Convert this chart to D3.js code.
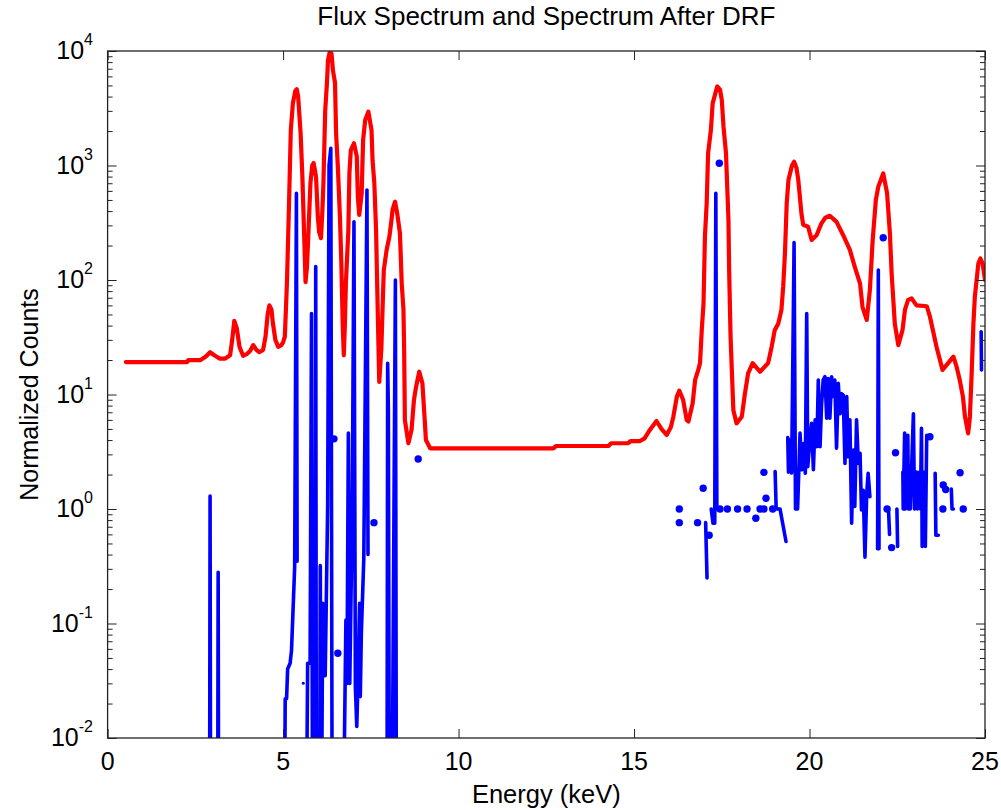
<!DOCTYPE html>
<html><head><meta charset="utf-8">
<script src="https://cdn.jsdelivr.net/npm/d3@7"></script>
<style>
html,body{margin:0;padding:0;background:#fff;}
svg text{font-family:"Liberation Sans",Arial,Helvetica,sans-serif;fill:#000;}
</style></head>
<body>
<svg id="chart" width="1001" height="810"></svg>
<script>
// ---------- DATA ----------
const title = "Flux Spectrum and Spectrum After DRF";
const xLabel = "Energy (keV)";
const yLabel = "Normalized Counts";
const xTicks = [0, 5, 10, 15, 20, 25];
const yExponents = [-2, -1, 0, 1, 2, 3, 4];

// Flux spectrum (red)
const redE = [0.52,2.27,2.30,2.65,2.80,2.92,3.06,3.20,3.35,3.49,3.55,3.61,3.68,3.76,3.86,3.96,4.06,4.15,4.24,4.32,4.43,4.50,4.56,4.61,4.67,4.71,4.78,4.86,4.95,5.00,5.05,5.11,5.17,5.22,5.28,5.35,5.39,5.43,5.50,5.55,5.60,5.64,5.68,5.71,5.75,5.78,5.83,5.87,5.91,5.94,5.99,6.03,6.08,6.12,6.15,6.20,6.25,6.28,6.33,6.38,6.42,6.48,6.51,6.56,6.62,6.66,6.70,6.73,6.76,6.79,6.86,6.89,6.93,7.02,7.10,7.13,7.17,7.24,7.28,7.34,7.43,7.52,7.55,7.60,7.65,7.68,7.74,7.80,7.85,7.87,7.95,8.03,8.08,8.12,8.19,8.25,8.33,8.38,8.43,8.45,8.47,8.57,8.66,8.73,8.79,8.88,8.97,9.03,9.07,9.19,12.70,12.78,14.27,14.35,14.83,14.90,15.17,15.30,15.45,15.64,15.78,15.93,16.05,16.12,16.22,16.29,16.40,16.50,16.55,16.67,16.74,16.83,16.88,16.93,16.98,17.02,17.07,17.11,17.19,17.24,17.37,17.45,17.50,17.55,17.62,17.69,17.71,17.75,17.83,17.92,18.07,18.16,18.25,18.38,18.59,18.82,18.92,19.01,19.11,19.20,19.25,19.30,19.35,19.40,19.50,19.56,19.63,19.68,19.77,19.82,19.96,20.06,20.20,20.34,20.45,20.58,20.77,20.96,21.15,21.29,21.44,21.51,21.63,21.72,21.80,21.89,21.96,22.10,22.21,22.29,22.34,22.43,22.53,22.65,22.72,22.81,22.91,23.05,23.34,23.43,23.62,23.79,23.95,24.10,24.19,24.28,24.37,24.43,24.52,24.57,24.62,24.67,24.71,24.81,24.87,24.93,25.00];
const redV = [19.2,19.2,20.0,20.0,21.5,23.4,21.8,20.6,20.6,22.0,30,44,38,26,21.8,22.5,24,27,24.5,23.4,24.5,32,50,60,55,42,30,26.1,27,28.5,32,94,470,2040,3500,4500,4634,4000,1900,800,250,96,130,210,420,705,1000,1050,900,790,357,260,232,400,705,3000,5260,8300,9800,9500,6800,5260,1930,980,357,140,40,22,40,94,273,860,1365,1563,1200,534,370,571,1670,2500,2950,2040,1100,700,273,94,12.9,25,80,122,183,240,317,410,483,385,257,94,55,24.5,6,3.75,4.9,9,11.7,15.8,12.5,6.4,4.0,3.39,3.39,3.55,3.55,3.75,3.75,3.92,3.92,4.14,4.9,5.87,5.0,4.43,5.2,6.4,9.6,10.8,8.95,6.0,5.8,8.4,13.4,16.4,18.8,36.6,62.6,240,467,1280,2040,3490,4900,4600,3740,2170,1280,334,122,32,7.3,5.6,6.4,10.2,15.3,18.8,15.8,18.8,26,36.6,41.6,55,87.5,171,467,747,1000,1080,950,747,380,304,292,224,246,312,350,364,322,246,183,130,93,58,44.8,82,224,500,654,852,573,256,114,41.6,27,36.6,55,67,69,60,59,48,26,16.4,18.8,21.4,17.5,13.4,9.6,6.4,4.58,6.4,15.3,41.6,71,139,154,140,100];

// Spectrum after DRF (blue line); null breaks the line, 0.001 = below axis floor
const blueE = [2.905,2.92,2.935,null,3.135,3.15,3.165,null,
 5.04,5.06,5.10,5.13,5.20,5.24,5.33,5.38,5.40,null,
 5.66,5.70,5.77,5.81,5.84,5.91,5.93,5.95,null,
 6.04,6.06,6.09,6.13,6.20,6.27,6.31,6.36,6.40,null,
 6.71,6.79,6.82,6.86,6.90,6.97,7.02,7.06,7.10,7.13,7.18,7.20,7.23,7.30,7.39,7.42,null,
 7.96,7.98,8.00,8.03,8.10,8.20,8.23,null,
 17.04,17.08,null,
 17.20,17.25,17.30,17.33,17.36,17.40,null,
 19.02,19.05,19.16,19.33,null,
 19.38,19.40,19.44,19.49,19.56,19.60,19.66,19.73,19.78,19.84,19.88,19.92,19.95,20.01,20.06,20.11,20.16,20.21,20.25,20.30,20.34,20.39,20.44,20.49,20.53,20.58,20.63,20.68,20.72,20.77,20.82,20.87,20.91,20.96,21.01,21.06,21.10,21.15,21.20,21.25,21.29,21.34,21.39,21.44,21.48,21.53,21.58,21.63,21.67,21.72,null,
 21.94,21.96,21.98,null,
 22.25,22.28,null,
 22.49,22.51,null,
 22.66,22.67,22.71,22.73,22.80,22.82,22.85,22.87,22.96,22.99,23.05,23.07,23.14,23.16,23.19,23.21,23.28,23.30,23.34,null,
 23.58,23.60,23.67,null,
 24.04,24.06,24.10,null,
 24.89,24.90];
const blueV = [0.001,1.3,0.001,null,0.001,0.28,0.001,null,
 0.001,0.022,0.022,0.04,0.045,0.058,0.31,571,0.35,null,
 0.001,0.045,0.045,51,0.001,0.001,131,0.001,null,
 0.001,0.32,0.001,0.15,0.035,1.05,1000,1412,0.001,null,
 0.001,0.107,0.03,4.6,0.03,0.9,323,0.028,0.0126,0.028,0.15,0.023,0.082,0.37,611,0.4,null,
 0.001,18.7,7.3,0.001,0.001,100,0.001,null,
 0.76,0.25,null,
 1.0,0.75,0.75,571,1.0,1.0,null,
 2.12,1.0,1.0,0.52,null,
 4.2,2.1,4.0,2.06,212,1.0,1.0,4.6,2.2,3.75,2.05,51,2.34,4.0,5.6,2.2,6.0,3.5,13.4,3.5,7.8,13.4,14.3,6.2,13.8,6.2,14.3,9.6,13.4,3.4,12.5,6.8,10.2,9.9,2.5,9.6,2.86,6.0,0.75,3.27,1.05,6.0,2.5,3.06,0.98,1.46,0.38,1.37,2.05,1.28,null,
 0.45,122,0.45,null,
 1.0,0.6,null,
 1.0,0.47,null,
 2.1,1.0,4.6,1.0,4.4,1.0,2.1,1.0,6.8,1.0,2.1,1.0,2.1,1.0,5.06,0.47,2.1,0.47,4.4,null,
 2.05,0.59,0.59,null,
 1.49,1.0,1.0,null,
 35.3,16.4];

// Isolated points of the DRF spectrum (drawn as dots)
const dotE = [5.575,6.45,6.56,7.59,8.85,16.29,16.29,16.81,16.97,17.14,17.43,17.45,17.66,17.95,18.22,18.47,18.59,18.70,18.70,18.76,18.95,22.10,22.21,22.34,22.45,23.43,23.80,23.81,23.88,24.29,24.38];
const dotV = [0.03,4.1,0.055,0.76,2.73,1.0,0.76,0.76,1.52,0.59,1045,1.0,1.0,1.0,1.0,0.83,1.0,1.0,2.09,1.24,1.0,234,1.0,0.46,3.1,4.28,1.0,1.62,1.48,2.07,1.0];

// ---------- CHART ----------
const svg = d3.select("#chart");
const L = 107.6, R = 985, T = 51, B = 738;
const x = d3.scaleLinear().domain([0, 25]).range([L, R]);
const y = d3.scaleLog().domain([1e-2, 1e4]).range([B, T]);

svg.append("defs").append("clipPath").attr("id", "clip")
  .append("rect").attr("x", L).attr("y", T).attr("width", R - L).attr("height", B - T);

const plot = svg.append("g").attr("clip-path", "url(#clip)");

const redData = redE.map((e, i) => [e, redV[i]]);
plot.append("path").datum(redData)
  .attr("fill", "none").attr("stroke", "#ff0000").attr("stroke-width", 4.2)
  .attr("stroke-linejoin", "round").attr("stroke-linecap", "round")
  .attr("d", d3.line().x(d => x(d[0])).y(d => y(d[1])));

const blueData = blueE.map((e, i) => [e, blueV[i]]);
plot.append("path").datum(blueData)
  .attr("fill", "none").attr("stroke", "#0000ff").attr("stroke-width", 3.6)
  .attr("stroke-linejoin", "round").attr("stroke-linecap", "round")
  .attr("d", d3.line().defined(d => d[0] !== null && d[1] !== null)
    .x(d => x(d[0])).y(d => y(d[1])));

plot.selectAll("circle.dot").data(dotE.map((e, i) => [e, dotV[i]]))
  .join("circle").attr("class", "dot")
  .attr("cx", d => x(d[0])).attr("cy", d => y(d[1]))
  .attr("r", (d, i) => i === 0 ? 1.5 : 3.7).attr("fill", "#0000ff");

// Axes (ticks inside, box)
const axisColor = "#222";
const ax = svg.append("g");
const xb = d3.axisBottom(x).tickValues(xTicks).tickSize(-9).tickFormat("");
const xt = d3.axisTop(x).tickValues(xTicks).tickSize(-9).tickFormat("");
ax.append("g").attr("transform", `translate(0,${B})`).call(xb);
ax.append("g").attr("transform", `translate(0,${T})`).call(xt);

const majors = yExponents.map(p => Math.pow(10, p));
const minors = [];
for (let p = -2; p < 4; p++) for (let k = 2; k <= 9; k++) minors.push(k * Math.pow(10, p));
ax.append("g").attr("transform", `translate(${L},0)`).call(d3.axisRight(y).tickValues(majors).tickSize(9).tickFormat(""));
ax.append("g").attr("transform", `translate(${L},0)`).call(d3.axisRight(y).tickValues(minors).tickSize(5).tickFormat(""));
ax.append("g").attr("transform", `translate(${R},0)`).call(d3.axisLeft(y).tickValues(majors).tickSize(9).tickFormat(""));
ax.append("g").attr("transform", `translate(${R},0)`).call(d3.axisLeft(y).tickValues(minors).tickSize(5).tickFormat(""));
ax.selectAll(".domain").remove();
ax.selectAll(".tick line").attr("stroke", axisColor).attr("stroke-width", 1);

svg.append("rect").attr("x", L).attr("y", T).attr("width", R - L).attr("height", B - T)
  .attr("fill", "none").attr("stroke", axisColor).attr("stroke-width", 1.3);

// X tick labels
svg.append("g").selectAll("text").data(xTicks).join("text")
  .attr("x", d => x(d)).attr("y", 770).attr("text-anchor", "middle")
  .attr("font-size", 25).text(d => d);

// Y tick labels 10^n
const yl = svg.append("g").selectAll("text").data(yExponents).join("text")
  .attr("x", 93).attr("y", d => y(Math.pow(10, d)) + 8).attr("text-anchor", "end")
  .attr("font-size", 25);
yl.append("tspan").text("10");
yl.append("tspan").attr("dy", -14).attr("font-size", 16).text(d => d);

// Title and axis labels
svg.append("text").attr("x", (L + R) / 2).attr("y", 25).attr("text-anchor", "middle")
  .attr("font-size", 26).text(title);
svg.append("text").attr("x", (L + R) / 2).attr("y", 803).attr("text-anchor", "middle")
  .attr("font-size", 25.5).text(xLabel);
svg.append("text").attr("transform", `translate(38,${(T + B) / 2}) rotate(-90)`)
  .attr("text-anchor", "middle").attr("font-size", 25).text(yLabel);
</script>
</body></html>
